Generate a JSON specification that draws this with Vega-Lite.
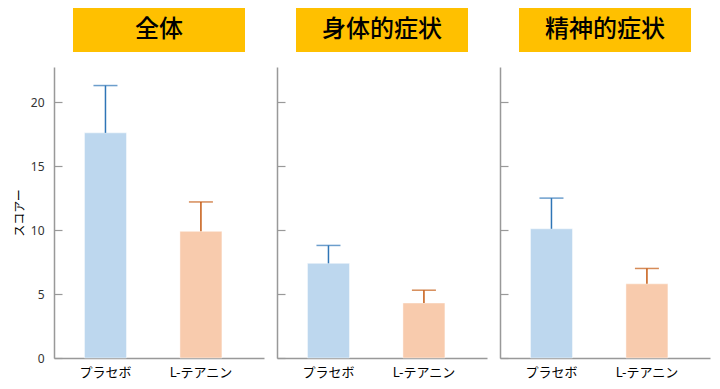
{
  "$schema": "https://vega.github.io/schema/vega-lite/v6.json",
  "padding": {"left": 13, "right": 5, "top": 8, "bottom": 5},
  "background": "white",
  "datasets": {
    "scores": [
      {"panel": "全体", "group": "プラセボ", "mean": 17.6, "upper": 21.3},
      {"panel": "全体", "group": "L-テアニン", "mean": 9.9, "upper": 12.2},
      {"panel": "身体的症状", "group": "プラセボ", "mean": 7.4, "upper": 8.8},
      {"panel": "身体的症状", "group": "L-テアニン", "mean": 4.3, "upper": 5.3},
      {"panel": "精神的症状", "group": "プラセボ", "mean": 10.1, "upper": 12.5},
      {"panel": "精神的症状", "group": "L-テアニン", "mean": 5.8, "upper": 7.0}
    ],
    "titles": [
      {"panel": "全体"},
      {"panel": "身体的症状"},
      {"panel": "精神的症状"}
    ]
  },
  "config": {
    "view": {"stroke": null},
    "font": "Noto Sans CJK JP",
    "axis": {"grid": false}
  },
  "spacing": 12,
  "hconcat": [
    {
      "spacing": 15,
      "center": true,
      "bounds": "flush",
      "vconcat": [
        {
          "width": 172, "height": 44,
          "view": {"fill": "#FFC000", "stroke": null},
          "data": {"name": "titles"},
          "transform": [{"filter": "datum.panel === '全体'"}],
          "mark": {"type": "text", "fontSize": 24, "fontWeight": 500, "font": "Noto Sans CJK JP", "color": "#000000", "baseline": "middle", "align": "center"},
          "encoding": {"text": {"field": "panel"}}
        },
        {
          "width": 210, "height": 291,
          "data": {"name": "scores"},
          "transform": [{"filter": "datum.panel === '全体'"}],
          "encoding": {
            "x": {"field": "group", "type": "nominal", "sort": ["プラセボ", "L-テアニン"],
                  "scale": {"paddingInner": 0.56, "paddingOuter": 0.38, "align": 0.42},
                  "axis": {"title": null, "labelAngle": 0, "ticks": false, "labelPadding": 8, "labelFontSize": 13, "labelColor": "#000000", "labelFont": "Noto Sans CJK JP", "domainColor": "#999999", "domainWidth": 1.5}},
            "y": {"type": "quantitative", "scale": {"domain": [0, 22.75], "nice": false},
                  "axis": {"title": "スコアー", "titleFontSize": 12, "titleFontWeight": "normal", "titleColor": "#000000", "titlePadding": 4, "values": [0, 5, 10, 15, 20], "tickSize": -8, "tickColor": "#999999", "tickWidth": 1.2, "labelPadding": 18, "labelFontSize": 12, "labelColor": "#333333", "labelFont": "Noto Sans", "domainColor": "#999999", "domainWidth": 1.5}}
          },
          "layer": [
            {"mark": {"type": "bar", "stroke": "white", "strokeWidth": 1, "strokeOpacity": 0.45},
             "encoding": {"y": {"field": "mean", "type": "quantitative"},
                          "color": {"field": "group", "type": "nominal", "scale": {"domain": ["プラセボ", "L-テアニン"], "range": ["#BDD7EE", "#F8CBAD"]}, "legend": null}}},
            {"mark": {"type": "rule", "strokeWidth": 1.5},
             "encoding": {"y": {"field": "mean", "type": "quantitative"}, "y2": {"field": "upper"},
                          "color": {"field": "group", "type": "nominal", "scale": {"domain": ["プラセボ", "L-テアニン"], "range": ["#2E75B6", "#C55A11"]}, "legend": null}}},
            {"mark": {"type": "tick", "size": 24, "thickness": 1.5},
             "encoding": {"y": {"field": "upper", "type": "quantitative"},
                          "color": {"field": "group", "type": "nominal", "scale": {"domain": ["プラセボ", "L-テアニン"], "range": ["#2E75B6", "#C55A11"]}, "legend": null}}}
          ],
          "resolve": {"scale": {"color": "independent"}}
        }
      ]
    },
    {
      "spacing": 15,
      "center": true,
      "bounds": "flush",
      "vconcat": [
        {
          "width": 172, "height": 44,
          "view": {"fill": "#FFC000", "stroke": null},
          "data": {"name": "titles"},
          "transform": [{"filter": "datum.panel === '身体的症状'"}],
          "mark": {"type": "text", "fontSize": 24, "fontWeight": 500, "font": "Noto Sans CJK JP", "color": "#000000", "baseline": "middle", "align": "center"},
          "encoding": {"text": {"field": "panel"}}
        },
        {
          "width": 210, "height": 291,
          "data": {"name": "scores"},
          "transform": [{"filter": "datum.panel === '身体的症状'"}],
          "encoding": {
            "x": {"field": "group", "type": "nominal", "sort": ["プラセボ", "L-テアニン"],
                  "scale": {"paddingInner": 0.56, "paddingOuter": 0.38, "align": 0.42},
                  "axis": {"title": null, "labelAngle": 0, "ticks": false, "labelPadding": 8, "labelFontSize": 13, "labelColor": "#000000", "labelFont": "Noto Sans CJK JP", "domainColor": "#999999", "domainWidth": 1.5}},
            "y": {"type": "quantitative", "scale": {"domain": [0, 22.75], "nice": false},
                  "axis": {"title": null, "labels": false, "values": [0, 5, 10, 15, 20], "tickSize": -8, "tickColor": "#999999", "tickWidth": 1.2, "domainColor": "#999999", "domainWidth": 1.5}}
          },
          "layer": [
            {"mark": {"type": "bar", "stroke": "white", "strokeWidth": 1, "strokeOpacity": 0.45},
             "encoding": {"y": {"field": "mean", "type": "quantitative"},
                          "color": {"field": "group", "type": "nominal", "scale": {"domain": ["プラセボ", "L-テアニン"], "range": ["#BDD7EE", "#F8CBAD"]}, "legend": null}}},
            {"mark": {"type": "rule", "strokeWidth": 1.5},
             "encoding": {"y": {"field": "mean", "type": "quantitative"}, "y2": {"field": "upper"},
                          "color": {"field": "group", "type": "nominal", "scale": {"domain": ["プラセボ", "L-テアニン"], "range": ["#2E75B6", "#C55A11"]}, "legend": null}}},
            {"mark": {"type": "tick", "size": 24, "thickness": 1.5},
             "encoding": {"y": {"field": "upper", "type": "quantitative"},
                          "color": {"field": "group", "type": "nominal", "scale": {"domain": ["プラセボ", "L-テアニン"], "range": ["#2E75B6", "#C55A11"]}, "legend": null}}}
          ],
          "resolve": {"scale": {"color": "independent"}}
        }
      ]
    },
    {
      "spacing": 15,
      "center": true,
      "bounds": "flush",
      "vconcat": [
        {
          "width": 172, "height": 44,
          "view": {"fill": "#FFC000", "stroke": null},
          "data": {"name": "titles"},
          "transform": [{"filter": "datum.panel === '精神的症状'"}],
          "mark": {"type": "text", "fontSize": 24, "fontWeight": 500, "font": "Noto Sans CJK JP", "color": "#000000", "baseline": "middle", "align": "center"},
          "encoding": {"text": {"field": "panel"}}
        },
        {
          "width": 210, "height": 291,
          "data": {"name": "scores"},
          "transform": [{"filter": "datum.panel === '精神的症状'"}],
          "encoding": {
            "x": {"field": "group", "type": "nominal", "sort": ["プラセボ", "L-テアニン"],
                  "scale": {"paddingInner": 0.56, "paddingOuter": 0.38, "align": 0.42},
                  "axis": {"title": null, "labelAngle": 0, "ticks": false, "labelPadding": 8, "labelFontSize": 13, "labelColor": "#000000", "labelFont": "Noto Sans CJK JP", "domainColor": "#999999", "domainWidth": 1.5}},
            "y": {"type": "quantitative", "scale": {"domain": [0, 22.75], "nice": false},
                  "axis": {"title": null, "labels": false, "values": [0, 5, 10, 15, 20], "tickSize": -8, "tickColor": "#999999", "tickWidth": 1.2, "domainColor": "#999999", "domainWidth": 1.5}}
          },
          "layer": [
            {"mark": {"type": "bar", "stroke": "white", "strokeWidth": 1, "strokeOpacity": 0.45},
             "encoding": {"y": {"field": "mean", "type": "quantitative"},
                          "color": {"field": "group", "type": "nominal", "scale": {"domain": ["プラセボ", "L-テアニン"], "range": ["#BDD7EE", "#F8CBAD"]}, "legend": null}}},
            {"mark": {"type": "rule", "strokeWidth": 1.5},
             "encoding": {"y": {"field": "mean", "type": "quantitative"}, "y2": {"field": "upper"},
                          "color": {"field": "group", "type": "nominal", "scale": {"domain": ["プラセボ", "L-テアニン"], "range": ["#2E75B6", "#C55A11"]}, "legend": null}}},
            {"mark": {"type": "tick", "size": 24, "thickness": 1.5},
             "encoding": {"y": {"field": "upper", "type": "quantitative"},
                          "color": {"field": "group", "type": "nominal", "scale": {"domain": ["プラセボ", "L-テアニン"], "range": ["#2E75B6", "#C55A11"]}, "legend": null}}}
          ],
          "resolve": {"scale": {"color": "independent"}}
        }
      ]
    }
  ]
}
